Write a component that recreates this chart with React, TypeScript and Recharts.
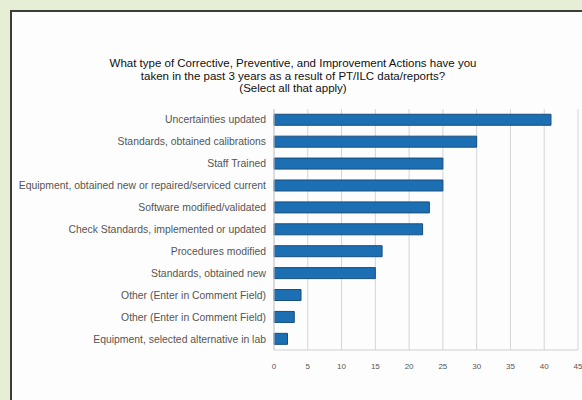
import { BarChart, Bar, XAxis, YAxis, CartesianGrid } from 'recharts';

const actions = [
  'Uncertainties updated',
  'Standards, obtained calibrations',
  'Staff Trained',
  'Equipment, obtained new or repaired/serviced current',
  'Software modified/validated',
  'Check Standards, implemented or updated',
  'Procedures modified',
  'Standards, obtained new',
  'Other (Enter in Comment Field)',
  'Other (Enter in Comment Field)',
  'Equipment, selected alternative in lab',
];

const responses = [41, 30, 25, 25, 23, 22, 16, 15, 4, 3, 2];

const xTicks = [0, 5, 10, 15, 20, 25, 30, 35, 40, 45];

const titleLines = [
  'What type of Corrective, Preventive, and Improvement Actions have you',
  'taken in the past 3 years as a result of PT/ILC data/reports?',
  '(Select all that apply)',
];

const rows = actions.map((name, i) => ({ key: i, name, count: responses[i] }));

const font = '"Liberation Sans", Arial, sans-serif';

// one-line category label, right aligned against the axis
function ActionTick({ x, y, payload }: { x?: number; y?: number; payload?: { value: number } }) {
  return (
    <text
      x={x}
      y={y}
      dy={3.5}
      textAnchor="end"
      fontSize={10.4}
      fill="#555"
      fontFamily={font}
    >
      {actions[payload?.value ?? 0]}
    </text>
  );
}

export default function App() {
  return (
    <div
      style={{
        position: 'absolute',
        left: 0,
        top: 0,
        width: 582,
        height: 400,
        background: '#fdfdfd',
        overflow: 'hidden',
        fontFamily: font,
      }}
    >
      {/* green page margin + dark frame edge */}
      <div style={{ position: 'absolute', left: 0, top: 0, width: 582, height: 10, background: '#e6eed6' }} />
      <div style={{ position: 'absolute', left: 0, top: 0, width: 10, height: 400, background: '#e6eed6' }} />
      <div style={{ position: 'absolute', left: 10, top: 10, width: 572, height: 2, background: '#3b3d38' }} />
      <div style={{ position: 'absolute', left: 10, top: 10, width: 2, height: 390, background: '#3b3d38' }} />
      <div
        style={{
          position: 'absolute',
          left: 0,
          top: 57,
          width: 586,
          textAlign: 'center',
          fontSize: 11.5,
          lineHeight: '12.5px',
          color: '#111',
        }}
      >
        {titleLines.map((t, i) => (
          <div key={i}>{t}</div>
        ))}
      </div>
      <div style={{ position: 'absolute', left: 0, top: 0 }}>
        <BarChart
          width={582}
          height={400}
          data={rows}
          layout="vertical"
          margin={{ top: 109, right: 4, bottom: 20, left: 4 }}
          barCategoryGap="24%"
        >
          <CartesianGrid horizontal={false} stroke="#d4d4d4" />
          <XAxis
            type="number"
            domain={[0, 45]}
            ticks={xTicks}
            height={30}
            tickLine={false}
            axisLine={{ stroke: '#cfcfcf' }}
            tickMargin={7}
            tick={{ fontSize: 8, fill: '#555', fontFamily: font }}
          />
          <YAxis
            type="category"
            dataKey="key"
            width={270}
            tickLine={false}
            axisLine={{ stroke: '#cfcfcf' }}
            interval={0}
            tick={<ActionTick />}
          />
          <Bar
            dataKey="count"
            fill="#1d6fb3"
            stroke="#174f7e"
            strokeWidth={1}
            isAnimationActive={false}
          />
        </BarChart>
      </div>
    </div>
  );
}
